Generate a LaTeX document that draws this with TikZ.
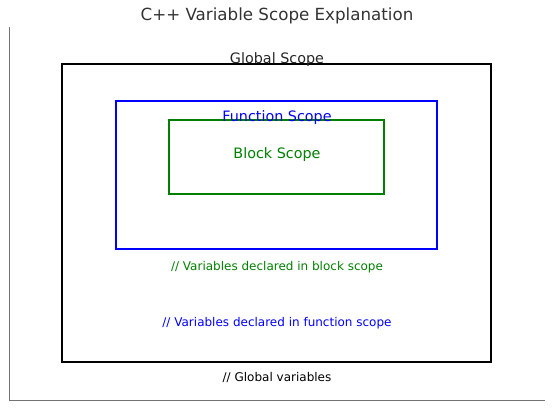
\documentclass[tikz,border=0pt]{standalone}
\usepackage{fontspec}
\setmainfont{DejaVu Sans}
\definecolor{blockgreen}{HTML}{008000}
\definecolor{funcblue}{HTML}{0000FF}
\tikzset{
  scopebox/.style={draw,line width=2.3pt,inner sep=0pt},
  scopetext/.style={anchor=base,inner sep=0pt,font=\fontsize{14.35}{17}\selectfont},
  notetext/.style={anchor=base,inner sep=0pt,font=\fontsize{12}{14}\selectfont},
}

\begin{document}
\begin{tikzpicture}[x=1pt,y=-1pt]
        \useasboundingbox (0,0) rectangle (554,408);
        % axes
        \coordinate (ytop) at (9,27);
        \coordinate (origin) at (9,400);
        \coordinate (xend) at (545,400);
        \draw[black!55,line width=1pt] (ytop) -- (origin) -- (xend);
        \node[anchor=base,inner sep=0pt,font=\fontsize{16.7}{20}\selectfont,text=black!80] (title) at (277,20.5) {C++ Variable Scope Explanation};
        % nested scopes
        \node[scopebox,draw=black,minimum width=429pt,minimum height=298pt] (global) at (276.5,213) {};
        \node[scopebox,draw=funcblue,minimum width=321pt,minimum height=148pt] (func) at (276.5,175) {};
        \node[scopebox,draw=blockgreen,minimum width=215pt,minimum height=74pt] (block) at (276.5,157) {};
        \node[scopetext,text=black!85] (globallbl) at (277,63.5) {Global Scope};
        \node[scopetext,text=funcblue] (funclbl) at (277,121) {Function Scope};
        \node[scopetext,text=blockgreen] (blocklbl) at (277,158.5) {Block Scope};
        % comments
        \node[notetext,text=blockgreen] (blocknote) at (277,270) {// Variables declared in block scope};
        \node[notetext,text=funcblue] (funcnote) at (277,326) {// Variables declared in function scope};
        \node[notetext,text=black] (globalnote) at (277,381.5) {// Global variables};
    \end{tikzpicture}
\end{document}
